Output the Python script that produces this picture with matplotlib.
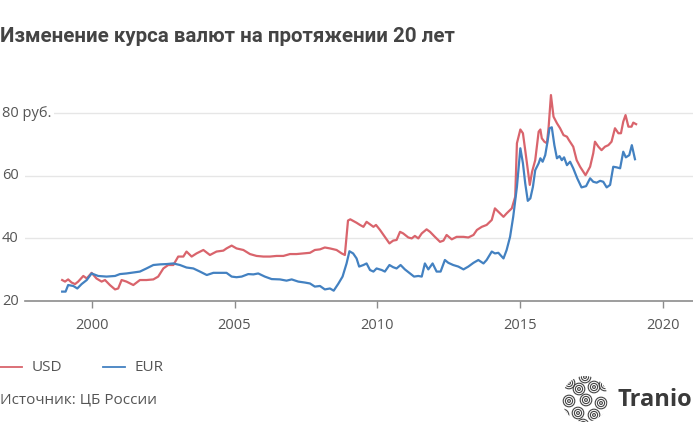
import numpy as np
import matplotlib
matplotlib.use("Agg")
import matplotlib.pyplot as plt
from matplotlib import transforms
from matplotlib.patches import Circle

# values (year, rub.)
usd_years = [1998.97, 1999.07, 1999.18, 1999.30, 1999.42, 1999.53, 1999.71, 1999.83, 2000.00,
             2000.17, 2000.35, 2000.47, 2000.64, 2000.82, 2000.93, 2001.05, 2001.22, 2001.46,
             2001.69, 2001.92, 2002.16, 2002.33, 2002.51, 2002.68, 2002.86, 2003.03, 2003.21,
             2003.32, 2003.50, 2003.67, 2003.91, 2004.14, 2004.37, 2004.61, 2004.72, 2004.90,
             2005.07, 2005.31, 2005.54, 2005.77, 2006.01, 2006.24, 2006.47, 2006.71, 2006.94,
             2007.17, 2007.41, 2007.64, 2007.81, 2007.99, 2008.16, 2008.34, 2008.57, 2008.75,
             2008.86, 2008.97, 2009.05, 2009.27, 2009.39, 2009.51, 2009.62, 2009.74, 2009.86,
             2009.95, 2010.09, 2010.26, 2010.42, 2010.55, 2010.67, 2010.79, 2010.90, 2011.08,
             2011.20, 2011.31, 2011.43, 2011.55, 2011.72, 2011.84, 2012.01, 2012.19, 2012.31,
             2012.42, 2012.60, 2012.77, 2013.01, 2013.18, 2013.36, 2013.48, 2013.65, 2013.82,
             2014.00, 2014.11, 2014.23, 2014.41, 2014.52, 2014.70, 2014.82, 2014.88, 2015.00,
             2015.09, 2015.17, 2015.26, 2015.33, 2015.41, 2015.52, 2015.64, 2015.70, 2015.75,
             2015.84, 2015.93, 2015.99, 2016.07, 2016.16, 2016.28, 2016.39, 2016.51, 2016.63,
             2016.70, 2016.85, 2016.97, 2017.09, 2017.28, 2017.44, 2017.55, 2017.61, 2017.73,
             2017.84, 2017.96, 2018.08, 2018.19, 2018.31, 2018.43, 2018.52, 2018.60, 2018.68,
             2018.78, 2018.89, 2018.95, 2019.05]
usd_values = [26.7, 26.2, 26.9, 25.9, 25.4, 26.2, 28.0, 27.2, 29.0,
              27.2, 26.2, 26.7, 25.1, 23.7, 24.0, 26.7, 26.2, 25.1,
              26.7, 26.7, 26.9, 27.8, 30.4, 31.5, 31.5, 34.2, 34.2,
              35.8, 34.2, 35.2, 36.3, 34.7, 35.8, 36.1, 36.8, 37.7,
              36.8, 36.3, 35.0, 34.4, 34.2, 34.2, 34.4, 34.4, 35.0,
              35.0, 35.2, 35.4, 36.3, 36.5, 37.1, 36.8, 36.3, 35.2,
              34.7, 45.7, 46.1, 45.0, 44.3, 43.7, 45.3, 44.5, 43.7,
              44.3, 42.7, 40.5, 38.4, 39.3, 39.5, 42.1, 41.6, 40.3,
              40.0, 40.8, 40.0, 41.6, 42.9, 42.1, 40.5, 38.9, 39.3,
              41.1, 39.7, 40.5, 40.5, 40.3, 41.1, 42.7, 43.7, 44.3,
              45.9, 49.6, 48.5, 46.9, 48.0, 49.6, 53.3, 70.4, 74.8,
              73.6, 68.2, 61.8, 57.1, 61.3, 65.0, 74.1, 74.8, 72.0,
              70.9, 70.4, 75.7, 85.8, 78.9, 76.8, 75.2, 73.0, 72.5,
              71.4, 69.3, 65.0, 62.9, 60.2, 62.9, 67.2, 70.9, 69.3,
              68.2, 69.3, 69.8, 70.9, 75.2, 73.6, 73.6, 77.3, 79.4,
              75.7, 75.7, 77.0, 76.5]

eur_years = [1998.97, 1999.09, 1999.18, 1999.36, 1999.50, 1999.65, 1999.83, 2000.00, 2000.23,
             2000.52, 2000.82, 2000.99, 2001.22, 2001.46, 2001.69, 2001.92, 2002.16, 2002.39,
             2002.62, 2002.86, 2003.09, 2003.32, 2003.56, 2003.79, 2004.03, 2004.26, 2004.49,
             2004.72, 2004.90, 2005.07, 2005.25, 2005.48, 2005.66, 2005.83, 2006.06, 2006.30,
             2006.59, 2006.82, 2007.00, 2007.23, 2007.46, 2007.64, 2007.81, 2007.99, 2008.16,
             2008.34, 2008.47, 2008.63, 2008.78, 2008.92, 2009.02, 2009.15, 2009.27, 2009.36,
             2009.51, 2009.62, 2009.74, 2009.86, 2009.97, 2010.15, 2010.26, 2010.42, 2010.55,
             2010.67, 2010.81, 2010.96, 2011.14, 2011.28, 2011.43, 2011.55, 2011.66, 2011.78,
             2011.93, 2012.07, 2012.21, 2012.36, 2012.48, 2012.65, 2012.83, 2013.01, 2013.18,
             2013.36, 2013.53, 2013.71, 2013.82, 2014.00, 2014.11, 2014.23, 2014.41, 2014.52,
             2014.64, 2014.75, 2014.88, 2015.00, 2015.09, 2015.17, 2015.26, 2015.35, 2015.44,
             2015.52, 2015.64, 2015.70, 2015.78, 2015.87, 2015.95, 2016.02, 2016.10, 2016.19,
             2016.28, 2016.37, 2016.45, 2016.53, 2016.63, 2016.74, 2016.85, 2016.99, 2017.14,
             2017.30, 2017.44, 2017.55, 2017.67, 2017.79, 2017.90, 2018.02, 2018.14, 2018.25,
             2018.37, 2018.49, 2018.60, 2018.69, 2018.81, 2018.90, 2019.01]
eur_values = [23.0, 23.0, 25.1, 24.8, 24.0, 25.4, 26.7, 28.8, 28.0,
              27.8, 28.0, 28.6, 28.8, 29.1, 29.4, 30.4, 31.5, 31.7,
              31.8, 32.0, 31.5, 30.7, 30.4, 29.4, 28.3, 29.0, 29.0,
              29.0, 27.8, 27.6, 27.8, 28.6, 28.5, 28.8, 27.8, 27.0,
              26.9, 26.5, 26.9, 26.2, 25.9, 25.6, 24.6, 24.8, 23.7,
              24.0, 23.3, 25.5, 27.8, 32.0, 35.9, 35.2, 33.6, 31.0,
              31.5, 32.0, 29.9, 29.4, 30.4, 29.9, 29.4, 31.5, 30.8,
              30.4, 31.5, 30.1, 28.8, 27.8, 28.0, 27.8, 32.0, 30.1,
              32.0, 29.4, 29.4, 33.1, 32.2, 31.5, 31.0, 30.1, 31.0,
              32.2, 33.1, 32.0, 33.1, 35.8, 35.2, 35.4, 33.6, 36.3,
              40.5, 46.9, 56.5, 68.8, 64.0, 57.6, 52.0, 52.8, 56.5,
              61.8, 64.0, 65.6, 64.5, 66.6, 70.9, 75.2, 75.5, 69.8,
              65.6, 66.3, 65.0, 65.9, 63.4, 64.5, 62.4, 59.2, 56.3,
              56.7, 59.2, 58.1, 57.8, 58.4, 58.1, 56.3, 57.1, 62.9,
              62.7, 62.4, 67.7, 65.9, 66.6, 69.8, 65.3]

x_ticks = [2000, 2005, 2010, 2015, 2020]
y_ticks = [20, 40, 60, 80]
y_labels = ["20", "40", "60", "80 руб."]

red = "#d9646c"
blue = "#4381c1"
sans = ["Open Sans", "DejaVu Sans"]
title_font = ["Roboto", "DejaVu Sans"]

fig = plt.figure(figsize=(6.93, 4.40), dpi=100)
ax = fig.add_axes([25 / 693, 1 - 301 / 440, 1 - 25 / 693, 210 / 440])
ax.set_xlim(1997.67, 2021.04)
ax.set_ylim(20, 87.1)

ax.plot(usd_years, usd_values, color=red, lw=1.6, solid_joinstyle="round", zorder=3)
ax.plot(eur_years, eur_values, color=blue, lw=1.6, solid_joinstyle="round", zorder=3)

for s in ["top", "right", "left"]:
    ax.spines[s].set_visible(False)
ax.spines["bottom"].set_color("#8c8c8c")
ax.spines["bottom"].set_linewidth(1.2)
ax.set_xticks(x_ticks)
ax.set_xticklabels([str(t) for t in x_ticks], fontfamily=sans, fontsize=10.5, color="#555555")
ax.tick_params(axis="x", length=5, width=1, color="#8c8c8c", pad=7)
ax.set_yticks([])
for t in y_ticks[1:]:
    ax.axhline(t, color="#e6e6e6", lw=1, zorder=1)

trans = transforms.blended_transform_factory(fig.transFigure, ax.transData)
for t, lab in zip(y_ticks, y_labels):
    ax.text(2 / 693, t, lab, transform=trans, ha="left", va="center", fontfamily=sans,
            fontsize=10.5, color="#555555", clip_on=False, zorder=5,
            bbox=dict(facecolor="white", edgecolor="none", pad=2))

fig.text(0, 1 - 36 / 440, "Изменение курса валют на протяжении 20 лет", ha="left", va="center",
         fontfamily=title_font, fontsize=14.8, fontweight="bold", color="#444444")

# legend
ly = 1 - 367 / 440
fig.add_artist(plt.Line2D([0, 22 / 693], [ly, ly], color=red, lw=1.3))
fig.text(32 / 693, ly, "USD", ha="left", va="center", fontfamily=sans,
         fontsize=11, color="#555555")
fig.add_artist(plt.Line2D([103 / 693, 125 / 693], [ly, ly], color=blue, lw=1.3))
fig.text(135 / 693, ly, "EUR", ha="left", va="center", fontfamily=sans,
         fontsize=11, color="#555555")
fig.text(0, 1 - 400 / 440, "Источник: ЦБ России", ha="left", va="center", fontfamily=sans,
         fontsize=11, color="#555555")

# logo: swirls of rings packed into a circle
lax = fig.add_axes([561 / 693, 1 - 423 / 440, 48 / 693, 48 / 440])
lax.set_xlim(-24, 24)
lax.set_ylim(-24, 24)
lax.set_aspect("equal")
lax.axis("off")
clip = Circle((0, 0), 23, transform=lax.transData)
swirls = [(-6, 10), (9, 12), (-16, -2), (1, -1), (16, -4), (-7, -14), (9, -16),
          (-16, 16), (20, 14), (-22, -16), (22, -20), (0, 22), (-2, -26)]
for cx, cy in swirls:
    for r in [1.4, 3.6, 5.8]:
        c = Circle((cx, cy), r, fill=False, lw=0.8, ec="#444444")
        c.set_clip_path(clip)
        lax.add_patch(c)
fig.text(617 / 693, 1 - 400 / 440, "Tranio", ha="left", va="center", fontfamily=sans,
         fontsize=17, fontweight="bold", color="#3a3a3a")

fig.savefig("out.png", dpi=100)
